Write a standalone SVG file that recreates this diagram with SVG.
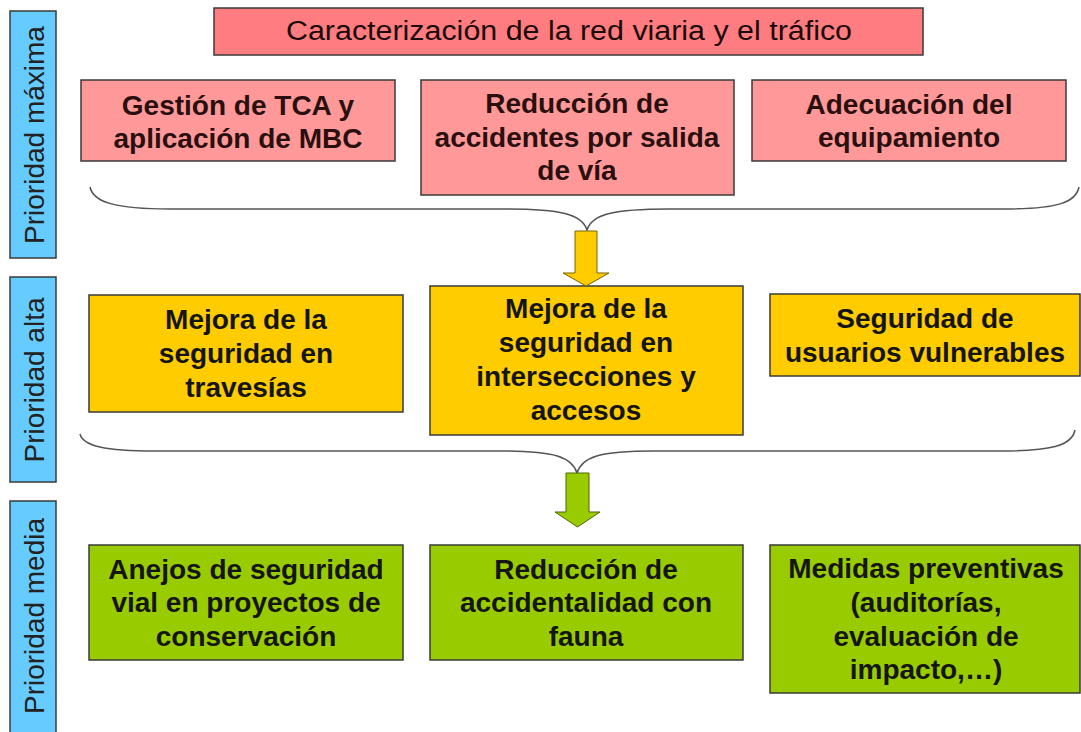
<svg xmlns="http://www.w3.org/2000/svg" width="1081" height="732" viewBox="0 0 1081 732">
<style>
.box{stroke:#3a3a3a;stroke-width:1.5}
.lbl{fill:#66CCFF}
.top{fill:#FF7C80}
.pk{fill:#FF9999}
.ye{fill:#FFCC00}
.gr{fill:#99CC00}
text{font-family:"Liberation Sans",Arial,sans-serif;font-size:28px;text-anchor:middle}
.b{font-weight:bold;fill:#151515}
.pt{font-weight:bold;fill:#2a0f0f}
.tt{font-weight:normal;fill:#1a0a0a;font-size:27px}
.v{font-weight:normal;fill:#222}
.brace{fill:none;stroke:#555;stroke-width:1.5}
</style>
<rect width="1081" height="732" fill="#ffffff"/>
<g id="prioridad-maxima"><rect class="box lbl" x="10" y="11" width="46" height="247"/><text class="v" transform="translate(44,135) rotate(-90)">Prioridad máxima</text></g>
<g id="prioridad-alta"><rect class="box lbl" x="10" y="277" width="46" height="205"/><text class="v" transform="translate(44,380) rotate(-90)">Prioridad alta</text></g>
<g id="prioridad-media"><rect class="box lbl" x="10" y="501" width="46" height="240"/><text class="v" transform="translate(44,616) rotate(-90)">Prioridad media</text></g>
<g id="caracterizacion"><rect class="box top" x="214" y="8" width="709" height="47"/><text class="tt" x="569" y="40" textLength="566" lengthAdjust="spacingAndGlyphs">Caracterización de la red viaria y el tráfico</text></g>
<g id="gestion-tca"><rect class="box pk" x="81" y="80" width="314" height="81"/><text class="pt" x="238" y="115">Gestión de TCA y</text><text class="pt" x="238" y="148">aplicación de MBC</text></g>
<g id="reduccion-salida"><rect class="box pk" x="421" y="80" width="313" height="115"/><text class="pt" x="577" y="113">Reducción de</text><text class="pt" x="577" y="147">accidentes por salida</text><text class="pt" x="577" y="180">de vía</text></g>
<g id="adecuacion"><rect class="box pk" x="752" y="80" width="314" height="81"/><text class="pt" x="909" y="114">Adecuación del</text><text class="pt" x="909" y="147">equipamiento</text></g>
<g id="travesias"><rect class="box ye" x="89" y="295" width="314" height="117"/><text class="b" x="246" y="329">Mejora de la</text><text class="b" x="246" y="363">seguridad en</text><text class="b" x="246" y="397">travesías</text></g>
<g id="intersecciones"><rect class="box ye" x="430" y="286" width="313" height="149"/><text class="b" x="586" y="318">Mejora de la</text><text class="b" x="586" y="352">seguridad en</text><text class="b" x="586" y="386">intersecciones y</text><text class="b" x="586" y="420">accesos</text></g>
<g id="vulnerables"><rect class="box ye" x="770" y="294" width="310" height="82"/><text class="b" x="925" y="328">Seguridad de</text><text class="b" x="925" y="362">usuarios vulnerables</text></g>
<g id="anejos"><rect class="box gr" x="89" y="545" width="314" height="115"/><text class="b" x="246" y="579">Anejos de seguridad</text><text class="b" x="246" y="612">vial en proyectos de</text><text class="b" x="246" y="646">conservación</text></g>
<g id="fauna"><rect class="box gr" x="430" y="545" width="313" height="115"/><text class="b" x="586" y="579">Reducción de</text><text class="b" x="586" y="612">accidentalidad con</text><text class="b" x="586" y="646">fauna</text></g>
<g id="preventivas"><rect class="box gr" x="770" y="545" width="310" height="148"/><text class="b" x="926" y="578">Medidas preventivas</text><text class="b" x="926" y="612">(auditorías,</text><text class="b" x="926" y="646">evaluación de</text><text class="b" x="926" y="679">impacto,…)</text></g>
<g id="connectors">
<path class="brace" d="M90,187 C93,202 115,209 170,209 L505,209 C560,209 582,214 587,230 C592,214 614,209 669,209 L1004,209 C1059,209 1076,202 1079,187"/>
<path class="brace" d="M80,434 C83,446 105,451 155,451 L500,451 C555,451 572,457 577,473 C582,457 599,451 654,451 L1000,451 C1050,451 1072,446 1075,430"/>
<polygon points="575,231 597,231 597,273 609,273 586,286 563,273 575,273" fill="#FFCC00" stroke="#7a6200" stroke-width="1"/>
<polygon points="566,473 589,473 589,512 600,512 577.5,527 555,512 566,512" fill="#99CC00" stroke="#4d6600" stroke-width="1"/>
</g>
</svg>
